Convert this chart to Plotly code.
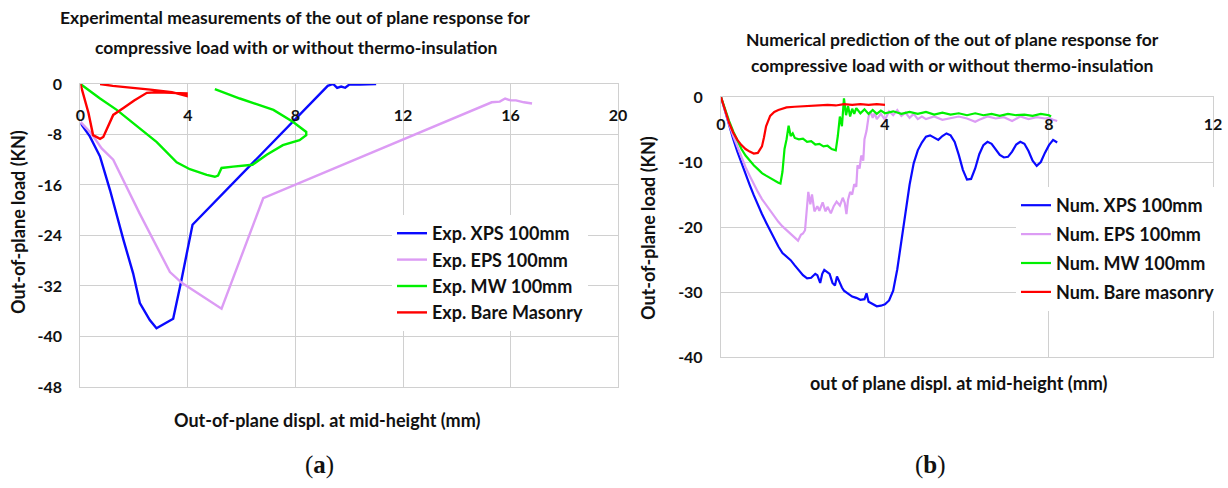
import plotly.graph_objects as go

# ---- Experimental curves (a): out-of-plane displacement (mm) vs load (kN)
exp_xps_x = [0, 0.35, 0.73, 1.1, 1.6, 1.96, 2.21, 2.58, 2.83, 3.08, 3.45, 3.76, 4.17,
             9.2, 9.4, 9.55, 9.7, 9.85, 10.0, 10.4, 11.0]
exp_xps_y = [-6.2, -8.3, -11.5, -16.8, -24.7, -30.0, -34.7, -37.4, -38.7, -38.1, -37.2, -31.0, -22.3,
             -0.3, 0.0, -0.6, -0.4, -0.6, -0.1, -0.1, 0.0]

exp_eps_x = [0, 0.4, 0.79, 1.22, 2.2, 3.33, 3.77, 4.56, 5.25, 6.8, 15.3, 15.6, 15.8, 16.0,
             16.2, 16.5, 16.8]
exp_eps_y = [-6.0, -7.8, -10.2, -12.0, -20.5, -29.8, -31.5, -33.7, -35.6, -18.1, -2.9, -2.8,
             -2.3, -2.6, -2.6, -2.9, -3.1]

exp_mw_x = [0, 0.73, 1.35, 1.96, 2.84, 3.58, 4.07, 4.7, 5.0, 5.12, 5.25, 5.68, 6.4, 6.93,
            7.53, 8.15, 8.4, 8.4, 7.9, 7.18, 5.93, 5.0]
exp_mw_y = [0, -2.3, -4.1, -6.2, -9.2, -12.4, -13.5, -14.4, -14.7, -14.5, -13.3, -13.1, -12.8,
            -11.2, -9.7, -8.9, -8.1, -7.6, -6.0, -4.1, -2.3, -0.8]

exp_bare_x = [0, 0.3, 0.47, 0.73, 0.85, 1.22, 1.6, 2.0, 2.47, 2.84, 3.4, 3.95, 3.95, 3.4,
              2.6, 1.8, 1.2, 0.73]
exp_bare_y = [0, -4.6, -8.1, -8.7, -8.4, -4.9, -3.8, -2.6, -1.4, -1.3, -1.4, -1.5, -1.9, -1.3,
              -0.9, -0.6, -0.3, 0]

# ---- Numerical curves (b)
num_xps_x = [0, 0.1, 0.2, 0.3, 0.4, 0.5, 0.6, 0.7, 0.8, 0.9, 1.0, 1.1, 1.2, 1.3, 1.4, 1.5,
             1.6, 1.7, 1.8, 1.9, 2.0, 2.1, 2.2, 2.3, 2.35, 2.42, 2.47, 2.52, 2.6, 2.65, 2.72,
             2.78, 2.83, 2.88, 2.95, 3.0, 3.1, 3.2, 3.3, 3.4, 3.5, 3.55, 3.6, 3.7, 3.8, 3.9,
             4.0, 4.1, 4.2, 4.3, 4.4, 4.5, 4.6, 4.7, 4.8, 4.9, 5.0, 5.1, 5.2, 5.3, 5.4, 5.5,
             5.6, 5.7, 5.8, 5.9, 6.0, 6.1, 6.2, 6.3, 6.4, 6.5, 6.6, 6.7, 6.8, 6.9, 7.0, 7.1,
             7.2, 7.3, 7.4, 7.5, 7.6, 7.7, 7.8, 7.9, 8.0, 8.1, 8.2]
num_xps_y = [0, -2.3, -4.5, -6.5, -8.4, -10.2, -11.9, -13.5, -15.1, -16.6, -18.0, -19.3,
             -20.6, -21.8, -23.0, -24.0, -24.5, -25.1, -25.9, -26.7, -27.4, -27.9, -27.8,
             -27.2, -27.4, -28.6, -27.2, -26.6, -26.9, -27.2, -28.6, -29.0, -27.6, -28.4,
             -29.3, -29.8, -30.3, -30.7, -30.9, -31.2, -31.1, -30.2, -31.5, -31.8, -32.2,
             -32.1, -31.9, -31.3, -29.8, -26.5, -22.0, -17.5, -13.5, -10.2, -8.2, -7.0,
             -6.1, -5.9, -6.3, -6.6, -6.0, -5.6, -5.9, -6.9, -8.9, -11.2, -12.7, -12.6,
             -11.0, -8.8, -7.4, -6.9, -7.2, -8.0, -8.9, -9.3, -9.2, -8.4, -7.3, -6.9, -7.2,
             -8.3, -9.8, -10.6, -10.0, -8.6, -7.4, -6.6, -7.0]

num_eps_x = [0, 0.1, 0.2, 0.3, 0.4, 0.5, 0.6, 0.7, 0.8, 0.9, 1.0, 1.1, 1.2, 1.3, 1.4, 1.5,
             1.6, 1.7, 1.8, 1.88, 1.95, 2.0, 2.05, 2.1, 2.13, 2.18, 2.22, 2.28, 2.35, 2.4,
             2.48, 2.55, 2.6, 2.68, 2.75, 2.82, 2.9, 2.97, 3.02, 3.06, 3.1, 3.15, 3.2, 3.25,
             3.3, 3.33, 3.38, 3.42, 3.47, 3.5, 3.55, 3.6, 3.65, 3.7, 3.75, 3.8, 3.9, 4.0,
             4.1, 4.2, 4.3, 4.4, 4.5, 4.6, 4.7, 4.8, 4.9, 5.0, 5.2, 5.4, 5.6, 5.8, 6.0, 6.2,
             6.3, 6.5, 6.7, 6.9, 7.1, 7.3, 7.5, 7.7, 7.9, 8.0, 8.1, 8.2]
num_eps_y = [0, -2.2, -4.2, -6.0, -7.7, -9.3, -10.8, -12.1, -13.4, -14.6, -15.7, -16.6,
             -17.5, -18.4, -19.2, -19.9, -20.5, -21.0, -21.6, -22.1, -21.2, -21.0, -20.5,
             -16.0, -14.6, -16.5, -15.0, -17.6, -16.8, -17.5, -16.2, -17.6, -16.9, -17.9,
             -16.8, -16.1, -16.7, -15.5, -16.3, -18.0, -15.8, -14.6, -15.0, -13.4, -13.8,
             -10.5, -11.0, -9.0, -9.8, -6.5, -5.2, -3.0, -2.2, -3.2, -2.5, -3.4, -2.6, -3.5,
             -2.2, -2.8, -2.0, -2.9, -2.4, -3.2, -2.6, -3.4, -3.0, -3.4, -3.0, -3.5, -3.2,
             -3.0, -3.3, -3.8, -3.5, -3.0, -3.3, -3.1, -3.7, -3.0, -3.4, -3.1, -3.3, -3.2,
             -3.5, -3.7]

num_mw_x = [0, 0.1, 0.2, 0.3, 0.4, 0.5, 0.6, 0.7, 0.8, 0.9, 1.0, 1.1, 1.2, 1.3, 1.4, 1.45,
            1.5, 1.55, 1.6, 1.65, 1.7, 1.75, 1.8, 1.9, 2.0, 2.1, 2.2, 2.3, 2.4, 2.5, 2.6,
            2.7, 2.8, 2.85, 2.9, 2.95, 3.0, 3.05, 3.1, 3.15, 3.2, 3.25, 3.3, 3.4, 3.5, 3.6,
            3.7, 3.8, 3.9, 4.0, 4.2, 4.4, 4.6, 4.8, 5.0, 5.2, 5.4, 5.6, 5.8, 6.0, 6.2, 6.4,
            6.6, 6.8, 7.0, 7.2, 7.4, 7.6, 7.8, 8.0, 8.05]
num_mw_y = [0, -1.9, -3.7, -5.3, -6.7, -8.0, -9.0, -9.8, -10.5, -11.1, -11.7, -12.1, -12.5,
            -12.9, -13.2, -13.3, -11.5, -8.0, -6.5, -4.4, -6.0, -5.6, -6.3, -6.5, -6.4, -6.9,
            -6.8, -7.3, -7.2, -7.6, -7.5, -8.0, -8.2, -6.0, -3.0, -4.5, -0.2, -2.8, -1.4,
            -3.0, -1.8, -2.6, -1.7, -2.5, -1.9, -2.6, -2.0, -2.6, -2.1, -2.5, -2.2, -2.6,
            -2.3, -2.6, -2.3, -2.7, -2.4, -2.7, -2.5, -2.8, -2.5, -2.8, -2.6, -2.9, -2.6,
            -2.8, -2.7, -2.9, -2.6, -2.8, -3.0]

num_bare_x = [0, 0.1, 0.2, 0.3, 0.4, 0.5, 0.6, 0.7, 0.8, 0.9, 1.0, 1.05, 1.1, 1.2, 1.3, 1.4,
              1.5, 1.6, 1.8, 2.0, 2.2, 2.4, 2.6, 2.8, 3.0, 3.2, 3.4, 3.6, 3.8, 4.0]
num_bare_y = [0, -2.2, -4.0, -5.5, -6.6, -7.4, -8.0, -8.4, -8.7, -8.6, -7.6, -6.2, -4.5,
              -2.9, -2.3, -2.0, -1.8, -1.6, -1.5, -1.4, -1.4, -1.3, -1.2, -1.3, -1.1, -1.2,
              -1.1, -1.2, -1.1, -1.2]

exp_names = ["Exp. XPS 100mm", "Exp. EPS 100mm", "Exp. MW 100mm", "Exp. Bare Masonry"]
num_names = ["Num. XPS 100mm", "Num. EPS 100mm", "Num. MW 100mm", "Num. Bare masonry"]
colors = ["#0a0aff", "#dc9cf4", "#00f000", "#ff0000"]

# axis ticks (labels use a plain hyphen for negatives)
exp_disp_ticks = [0, 4, 8, 12, 16, 20]
exp_load_ticks = [0, -8, -16, -24, -32, -40, -48]
exp_load_labels = ["0", "-8", "-16", "-24", "-32", "-40", "-48"]
num_disp_ticks = [0, 4, 8, 12]
num_load_ticks = [0, -10, -20, -30, -40]
num_load_labels = ["0", "-10", "-20", "-30", "-40"]

FONT = "Lato"
GRID = "#d0d0d0"
INK = "#111111"

fig = go.Figure()

exp_series = [(exp_xps_x, exp_xps_y), (exp_eps_x, exp_eps_y),
              (exp_mw_x, exp_mw_y), (exp_bare_x, exp_bare_y)]
num_series = [(num_xps_x, num_xps_y), (num_eps_x, num_eps_y),
              (num_mw_x, num_mw_y), (num_bare_x, num_bare_y)]

for i, ((xs, ys), name) in enumerate(zip(exp_series, exp_names)):
    fig.add_trace(go.Scatter(x=xs, y=ys, mode="lines", name=name,
                             line=dict(color=colors[i], width=2.4),
                             xaxis="x", yaxis="y", legend="legend",
                             legendgroup="e%d" % i))
for i, ((xs, ys), name) in enumerate(zip(num_series, num_names)):
    fig.add_trace(go.Scatter(x=xs, y=ys, mode="lines", name=name,
                             line=dict(color=colors[i], width=2.2),
                             xaxis="x2", yaxis="y2", legend="legend2",
                             legendgroup="n%d" % i))

tick_font = dict(family=FONT, size=16, color=INK, weight="bold")

axis_common = dict(showgrid=True, gridcolor=GRID, gridwidth=1.2, zeroline=False,
                   showline=True, linecolor=GRID, linewidth=1.2, mirror=True,
                   ticks="", tickfont=tick_font, automargin=False)

legend_font = dict(family=FONT, size=18, color=INK, weight="bold")

fig.update_layout(
    width=1228, height=488,
    margin=dict(l=0, r=0, t=0, b=0, autoexpand=False),
    paper_bgcolor="white", plot_bgcolor="white",
    font=dict(family=FONT, color=INK),
    xaxis=dict(domain=[0.0655, 0.5033], range=[0, 20], tickvals=exp_disp_ticks,
               side="top", ticklabelposition="inside", ticklabeloverflow="allow",
               ticklabelstandoff=26, anchor="y", **axis_common),
    yaxis=dict(domain=[0.2070, 0.8279], range=[-48, 0], tickvals=exp_load_ticks,
               ticktext=exp_load_labels, ticklabelstandoff=14, anchor="x", **axis_common),
    xaxis2=dict(domain=[0.5871, 0.9878], range=[0, 12], tickvals=num_disp_ticks,
                side="top", ticklabelposition="inside", ticklabeloverflow="allow",
                ticklabelstandoff=22, anchor="y2", **axis_common),
    yaxis2=dict(domain=[0.2684, 0.8012], range=[-40, 0], tickvals=num_load_ticks,
                ticktext=num_load_labels, ticklabelstandoff=14, anchor="x2", **axis_common),
    legend=dict(x=392 / 1228, y=1 - 215 / 488, xanchor="left", yanchor="top",
                bgcolor="white", font=legend_font, itemwidth=30, tracegroupgap=3,
                traceorder="normal"),
    legend2=dict(x=1016 / 1228, y=1 - 187 / 488, xanchor="left", yanchor="top",
                 bgcolor="white", font=legend_font, itemwidth=30, tracegroupgap=2.5,
                 traceorder="grouped"),
)


def text(x, y, s, size=17.5, angle=0, family=FONT, bold=True):
    fig.add_annotation(x=x / 1228, y=1 - y / 488, xref="paper", yref="paper",
                       text=s, showarrow=False, textangle=angle,
                       xanchor="center", yanchor="middle",
                       font=dict(family=family, size=size, color=INK,
                                 weight="bold" if bold else "normal"))


# chart titles
text(295, 18, "Experimental measurements of the out of plane response for")
text(296, 47, "compressive load with or without thermo-insulation")
text(952, 40, "Numerical prediction of the out of plane response for")
text(952, 65, "compressive load with or without thermo-insulation")

# axis titles
text(327, 420, "Out-of-plane displ. at mid-height (mm)", size=18)
text(18, 222, "Out-of-plane load (KN)", size=18, angle=-90)
text(958, 383, "out of plane displ. at mid-height (mm)", size=18)
text(648, 228, "Out-of-plane load (KN)", size=18, angle=-90)

# panel captions
text(319, 465, "(<b>a</b>)", size=25, family="Liberation Serif", bold=False)
text(930, 465, "(<b>b</b>)", size=25, family="Liberation Serif", bold=False)

fig.write_html("out.html")
